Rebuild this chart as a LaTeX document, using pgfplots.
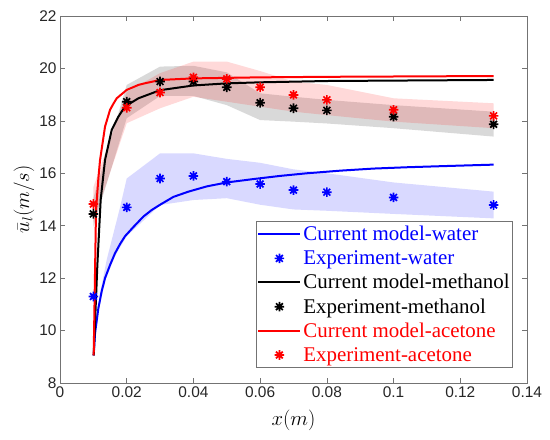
\documentclass[border=0pt]{standalone}
\usepackage{pgfplots}
\pgfplotsset{compat=1.18}
\usepackage{fontspec}
\setmainfont{Liberation Serif}
\newfontfamily\arialfont{Liberation Sans}
\pgfdeclareplotmark{ast8}{%
  \pgfpathmoveto{\pgfqpoint{-\pgfplotmarksize}{0pt}}\pgfpathlineto{\pgfqpoint{\pgfplotmarksize}{0pt}}%
  \pgfpathmoveto{\pgfqpoint{0pt}{-\pgfplotmarksize}}\pgfpathlineto{\pgfqpoint{0pt}{\pgfplotmarksize}}%
  \pgfpathmoveto{\pgfqpoint{-0.7071\pgfplotmarksize}{-0.7071\pgfplotmarksize}}\pgfpathlineto{\pgfqpoint{0.7071\pgfplotmarksize}{0.7071\pgfplotmarksize}}%
  \pgfpathmoveto{\pgfqpoint{-0.7071\pgfplotmarksize}{0.7071\pgfplotmarksize}}\pgfpathlineto{\pgfqpoint{0.7071\pgfplotmarksize}{-0.7071\pgfplotmarksize}}%
  \pgfusepathqstroke}
\begin{document}
\begin{tikzpicture}
\path[use as bounding box] (0,0) rectangle (550bp,440bp);
\begin{axis}[
  at={(60bp,57bp)}, anchor=south west,
  scale only axis, width=467bp, height=367bp,
  xmin=0, xmax=0.14, ymin=8, ymax=22,
  xtick={0,0.02,0.04,0.06,0.08,0.1,0.12,0.14},
  ytick={8,10,12,14,16,18,20,22},
  scaled x ticks=false,
  xticklabel style={/pgf/number format/fixed, /pgf/number format/precision=2},
  /pgf/number format/assume math mode=true,
  tick label style={font=\arialfont\fontsize{15.5}{18}\selectfont, text=black!85},
  axis line style={black!55, line width=0.7bp},
  tick style={black!55, line width=0.7bp},
  major tick length=5bp, tick align=inside,
  xlabel={$x(m)$}, ylabel={$\bar{u}_l(m/s)$},
  label style={font=\fontsize{20}{24}\selectfont},
  xlabel style={at={(axis description cs:0.5,-0.1008)}, anchor=center},
  ylabel style={at={(axis description cs:-0.0771,0.5)}, anchor=center},
  legend style={at={(1,0)}, anchor=south east, xshift=-14bp, yshift=15bp,
    font=\fontsize{21}{23}\selectfont, draw=black!55, line width=0.7bp,
    inner xsep=1bp, inner ysep=3bp, row sep=4.3bp,
    nodes={inner ysep=2bp}},
  legend cell align=left,
  legend image code/.code={\draw[mark repeat=2,mark phase=2,#1] plot coordinates {(0bp,0bp) (21bp,0bp) (42bp,0bp)};},
  every axis plot/.append style={line join=round},
]
% bands
\addplot[draw=none, fill=blue, fill opacity=0.15, forget plot] coordinates {
 (0.0101,9.05) (0.011,10.2) (0.012,11.4) (0.014,12.7) (0.016,13.7) (0.018,14.7) (0.02,15.8)
 (0.03,16.76) (0.04,16.76) (0.05,16.55) (0.06,16.4) (0.07,16.15) (0.08,16.0) (0.10,15.65) (0.13,15.3)
 (0.13,14.28) (0.10,14.45) (0.08,14.57) (0.07,14.62) (0.06,14.8) (0.05,15.05) (0.04,14.98) (0.03,14.79)
 (0.02,13.6) (0.0165,12.85) (0.0135,11.9) (0.0115,10.7) (0.0101,9.0)} -- cycle;
\addplot[draw=none, fill=black, fill opacity=0.15, forget plot] coordinates {
 (0.01,15.05) (0.02,19.37) (0.03,20.07) (0.04,20.1) (0.05,19.85) (0.06,19.05) (0.07,18.92) (0.08,18.8) (0.10,18.6) (0.13,18.35)
 (0.13,17.4) (0.10,17.72) (0.08,17.9) (0.07,17.97) (0.06,18.03) (0.05,18.6) (0.04,18.95) (0.03,18.95) (0.02,18.1) (0.01,13.95)} -- cycle;
\addplot[draw=none, fill=red, fill opacity=0.15, forget plot] coordinates {
 (0.01,15.47) (0.02,19.1) (0.03,19.82) (0.04,20.26) (0.05,20.26) (0.06,19.9) (0.07,19.5) (0.08,19.37) (0.10,18.86) (0.13,18.67)
 (0.13,17.72) (0.10,17.97) (0.08,18.22) (0.07,18.35) (0.06,18.54) (0.05,18.73) (0.04,18.92) (0.03,18.48) (0.02,17.91) (0.01,14.13)} -- cycle;
% water
\addplot[blue, line width=2bp] coordinates {
 (0.0101,9.05) (0.0105,9.9) (0.0115,10.85) (0.0125,11.5) (0.0135,12.0) (0.015,12.5) (0.0165,12.95)
 (0.018,13.3) (0.0195,13.6) (0.022,13.95) (0.025,14.35) (0.0275,14.6) (0.03,14.8) (0.034,15.1)
 (0.0385,15.3) (0.044,15.5) (0.05,15.65) (0.058,15.78) (0.066,15.9) (0.074,16.0) (0.084,16.1)
 (0.094,16.18) (0.104,16.23) (0.114,16.27) (0.122,16.3) (0.13,16.33)};
\addlegendentry{\textcolor{blue}{Current model-water}}
\addplot[blue, only marks, mark=ast8, mark size=4.8bp, line width=1.7bp] coordinates {
 (0.01,11.3) (0.02,14.7) (0.03,15.8) (0.04,15.9) (0.05,15.68) (0.06,15.59) (0.07,15.36) (0.08,15.28) (0.10,15.08) (0.13,14.79)};
\addlegendentry{\textcolor{blue}{Experiment-water}}
% methanol
\addplot[black, line width=2bp] coordinates {
 (0.0101,9.05) (0.0112,12.5) (0.0122,15.0) (0.0135,16.51) (0.0155,17.65) (0.0175,18.16) (0.0195,18.55)
 (0.0235,18.86) (0.03,19.17) (0.04,19.35) (0.05,19.43) (0.06,19.47) (0.08,19.52) (0.13,19.56)};
\addlegendentry{Current model-methanol}
\addplot[black, only marks, mark=ast8, mark size=4.8bp, line width=1.7bp] coordinates {
 (0.01,14.45) (0.02,18.73) (0.03,19.5) (0.04,19.5) (0.05,19.28) (0.06,18.69) (0.07,18.48) (0.08,18.4) (0.10,18.16) (0.13,17.87)};
\addlegendentry{Experiment-methanol}
% acetone
\addplot[red, line width=2bp] coordinates {
 (0.0101,9.05) (0.0108,14.6) (0.0115,15.8) (0.012,16.5) (0.0135,17.78) (0.015,18.42) (0.016,18.65)
 (0.017,18.86) (0.02,19.18) (0.0235,19.37) (0.025,19.42) (0.03,19.56) (0.04,19.62) (0.05,19.64) (0.06,19.66) (0.08,19.68) (0.13,19.71)};
\addlegendentry{\textcolor{red}{Current model-acetone}}
\addplot[red, only marks, mark=ast8, mark size=4.8bp, line width=1.7bp] coordinates {
 (0.01,14.83) (0.02,18.5) (0.03,19.08) (0.04,19.66) (0.05,19.6) (0.06,19.28) (0.07,18.99) (0.08,18.8) (0.10,18.42) (0.13,18.19)};
\addlegendentry{\textcolor{red}{Experiment-acetone}}
\end{axis}
\end{tikzpicture}
\end{document}
